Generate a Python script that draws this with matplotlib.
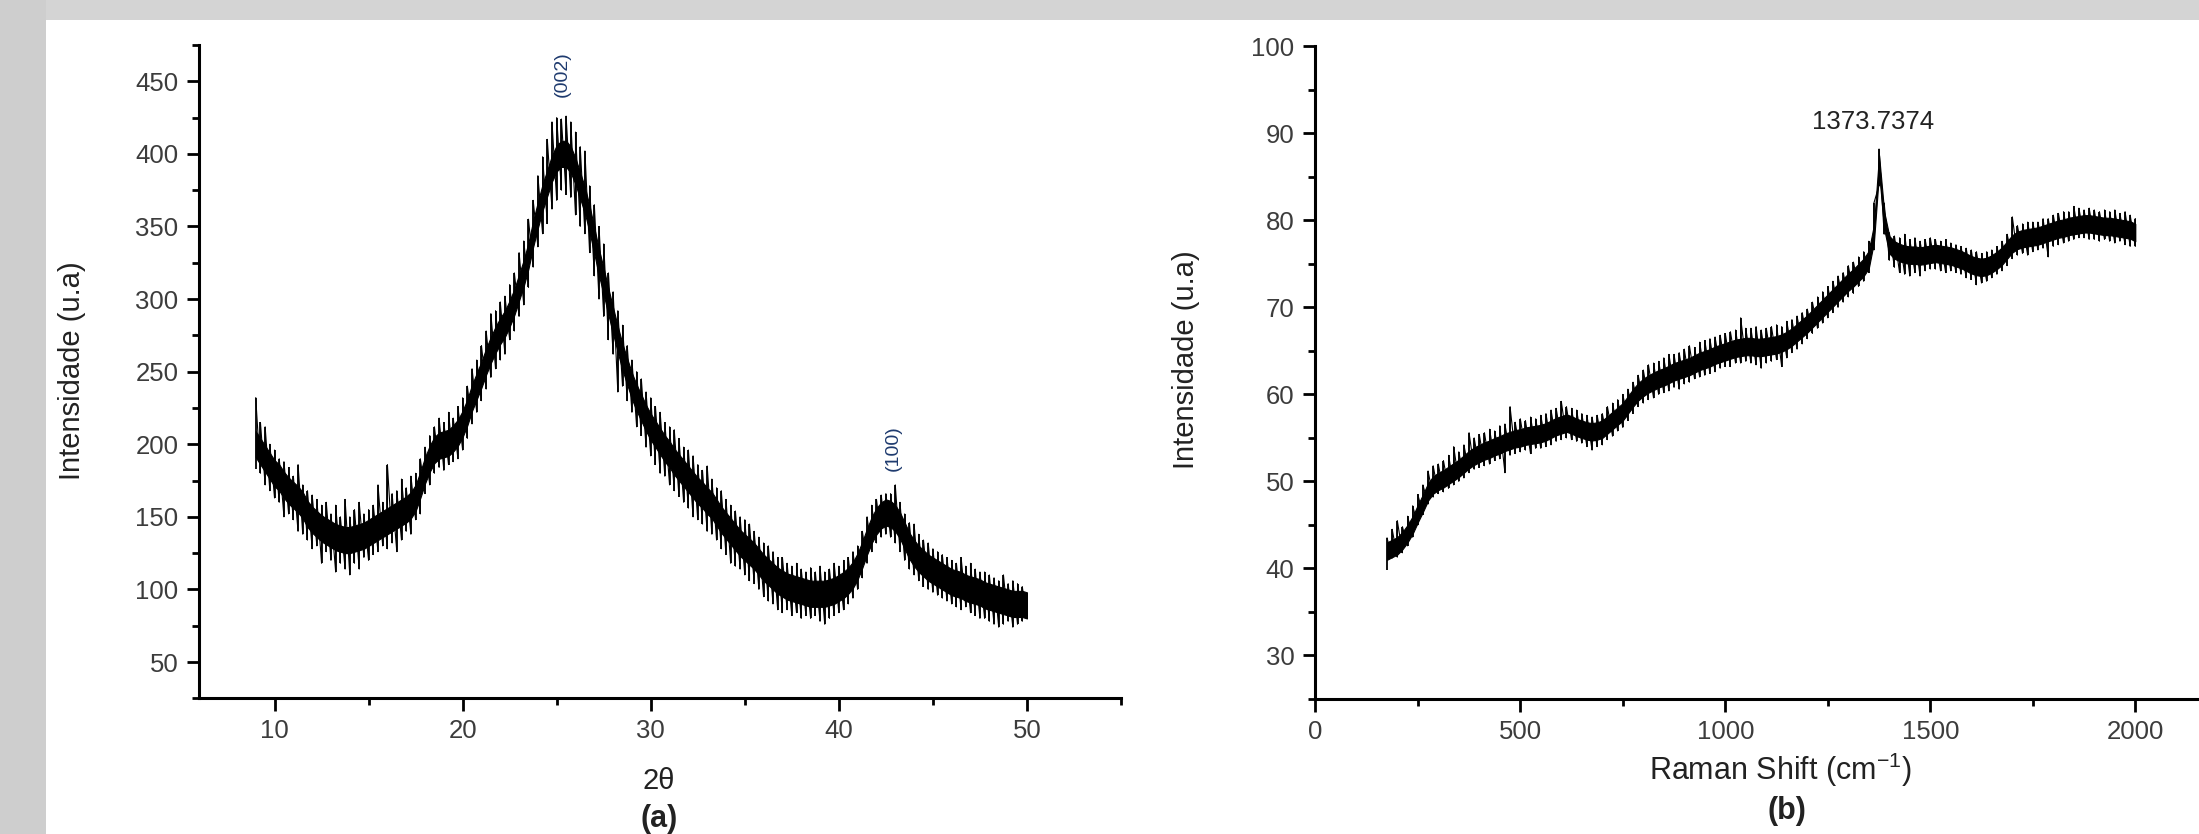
import numpy as np
import matplotlib
matplotlib.use("Agg")
import matplotlib.pyplot as plt
from matplotlib.patches import Rectangle
from matplotlib.ticker import MultipleLocator

plt.rcParams['font.family'] = ['Liberation Sans', 'DejaVu Sans']
plt.rcParams['mathtext.fontset'] = 'custom'
plt.rcParams['mathtext.rm'] = 'Liberation Sans'

###############################################################################
# data
###############################################################################
# (a) XRD, 2theta from 9 to 50 every 0.25 deg
xrd_start, xrd_end = 9.0, 50.0
# middle of the dense noise band
xrd_mid = [200, 195, 190, 185, 180, 177, 172, 168, 165, 162, 158, 152,
           148, 145, 142, 140, 138, 136, 135, 134, 134, 135, 136, 137,
           139, 141, 143, 145, 147, 149, 151, 153, 155, 158, 163, 172,
           182, 190, 196, 199, 200, 201, 204, 208, 214, 222, 232, 240,
           248, 257, 265, 272, 278, 283, 290, 298, 308, 318, 330, 345,
           358, 370, 380, 390, 397, 400, 400, 396, 388, 378, 368, 355,
           340, 325, 312, 298, 285, 272, 260, 250, 240, 232, 225, 218,
           212, 207, 202, 197, 193, 188, 184, 180, 176, 172, 168, 165,
           161, 158, 153, 148, 144, 140, 136, 132, 129, 126, 123, 119,
           115, 112, 109, 106, 104, 102, 101, 100, 99, 98, 97, 97,
           97, 97, 98, 99, 101, 103, 106, 110, 116, 124, 133, 141,
           147, 151, 153, 152, 149, 144, 137, 130, 125, 121, 118, 115,
           113, 111, 109, 107, 105, 104, 103, 101, 100, 99, 98, 96,
           95, 94, 93, 92, 91, 90, 90, 90, 89]
# tips of the spikes above / below
xrd_hi = [232, 215, 212, 200, 196, 190, 188, 184, 178, 186, 172, 168,
          165, 162, 158, 160, 152, 158, 150, 162, 150, 155, 160, 152,
          155, 158, 172, 160, 186, 166, 168, 176, 170, 178, 180, 190,
          198, 206, 212, 218, 215, 222, 218, 226, 232, 240, 252, 258,
          268, 278, 290, 292, 298, 302, 310, 318, 332, 340, 355, 368,
          385, 398, 410, 422, 425, 424, 426, 422, 415, 405, 402, 378,
          365, 350, 338, 318, 305, 292, 282, 268, 258, 250, 245, 236,
          232, 226, 222, 215, 212, 210, 204, 198, 196, 192, 186, 182,
          185, 176, 170, 168, 162, 158, 154, 150, 148, 145, 140, 136,
          132, 130, 126, 122, 122, 118, 116, 118, 114, 112, 115, 112,
          116, 112, 114, 118, 116, 120, 122, 126, 130, 140, 150, 158,
          162, 165, 166, 166, 172, 160, 152, 146, 145, 138, 134, 132,
          128, 126, 124, 122, 120, 118, 122, 116, 118, 114, 112, 112,
          110, 108, 106, 110, 104, 106, 104, 102, 96]
xrd_lo = [183, 180, 172, 168, 163, 160, 150, 152, 148, 140, 138, 134,
          128, 130, 118, 126, 120, 112, 118, 114, 110, 118, 114, 122,
          120, 124, 126, 130, 128, 132, 126, 134, 140, 138, 148, 152,
          166, 172, 180, 184, 182, 186, 188, 190, 196, 204, 214, 222,
          230, 238, 246, 252, 258, 262, 272, 278, 288, 296, 308, 322,
          336, 345, 352, 362, 368, 375, 372, 370, 358, 350, 345, 332,
          316, 300, 288, 272, 262, 236, 240, 230, 222, 212, 206, 198,
          192, 186, 180, 178, 172, 168, 164, 160, 156, 150, 148, 145,
          140, 138, 134, 128, 124, 118, 116, 114, 110, 106, 104, 100,
          95, 92, 90, 86, 84, 86, 82, 84, 80, 82, 80, 82,
          78, 76, 80, 82, 84, 86, 90, 94, 100, 108, 118, 126,
          132, 136, 138, 136, 132, 126, 120, 114, 110, 106, 102, 100,
          98, 96, 94, 92, 90, 88, 86, 88, 84, 82, 80, 80,
          78, 76, 74, 76, 78, 74, 76, 78, 80]
xrd_peaks = ["(002)", "(100)"]
xrd_peak_pos = [(25.3, 455), (42.9, 197)]

# (b) Raman, shift from 175 to 2000 cm-1 every 12.5
ram_start, ram_end = 175.0, 2000.0
ram_mid = [42, 42.3, 42.6, 43.2, 44, 45, 46.3, 47.5, 48.8, 49.6, 50, 50.3,
           50.7, 51.1, 51.5, 52, 52.5, 52.9, 53.2, 53.5, 53.7, 54, 54.2, 54.5,
           54.7, 54.9, 55, 55.2, 55.3, 55.4, 55.5, 55.7, 56, 56.3, 56.5, 56.7,
           56.5, 56.2, 56, 55.8, 55.7, 55.8, 56, 56.5, 57, 57.5, 58, 58.8,
           59.6, 60.3, 60.8, 61.2, 61.5, 61.8, 62, 62.3, 62.6, 62.8, 63, 63.2,
           63.5, 63.8, 64, 64.2, 64.5, 64.7, 64.9, 65.1, 65.3, 65.4, 65.5, 65.5,
           65.4, 65.4, 65.5, 65.6, 65.7, 65.9, 66.2, 66.6, 67.1, 67.6, 68.1, 68.7,
           69.3, 69.9, 70.5, 71.1, 71.7, 72.3, 72.9, 73.4, 74, 74.6, 75.5, 78.5,
           86.5, 80, 77.2, 76.6, 76.3, 76.1, 76, 76, 75.9, 76, 76.1, 76.2,
           76.1, 76, 75.9, 75.7, 75.5, 75.2, 74.9, 74.7, 74.6, 74.7, 75, 75.4,
           75.9, 76.6, 77.3, 77.7, 77.9, 78, 78.1, 78.2, 78.4, 78.6, 78.8, 79,
           79.1, 79.3, 79.4, 79.5, 79.6, 79.6, 79.5, 79.4, 79.3, 79.3, 79.2, 79.1,
           79, 78.9, 78.6]
ram_hi = [43.5, 44.5, 45.5, 44.8, 46.0, 47.2, 48.5, 49.6, 51.2, 51.8, 52.0, 52.4,
          53.0, 54.0, 53.4, 54.2, 55.6, 55.0, 55.4, 55.6, 56.0, 55.8, 56.4, 56.6,
          58.6, 56.8, 57.2, 57.0, 57.4, 57.2, 57.6, 57.8, 58.2, 58.4, 59.2, 58.6,
          58.4, 58.2, 57.8, 57.6, 57.4, 57.6, 57.8, 58.6, 59.0, 59.4, 60.0, 60.6,
          61.4, 62.2, 62.8, 63.4, 63.6, 63.8, 64.2, 64.6, 64.6, 64.8, 65.2, 65.6,
          65.4, 66.0, 66.2, 66.4, 66.6, 66.8, 67.0, 67.2, 67.4, 68.8, 67.6, 67.6,
          67.8, 67.4, 67.6, 67.8, 68.0, 67.8, 68.4, 68.6, 69.0, 69.4, 69.8, 70.6,
          71.2, 71.8, 72.4, 73.0, 73.6, 74.0, 74.8, 75.2, 75.8, 76.4, 77.6, 82.0,
          88.2, 82.0, 78.6, 78.2, 78.0, 78.4, 77.8, 78.0, 77.6, 77.8, 78.0, 77.8,
          77.6, 77.8, 77.4, 77.2, 77.0, 76.8, 76.6, 76.4, 76.2, 76.4, 76.6, 77.0,
          77.6, 78.4, 80.4, 79.4, 79.6, 79.8, 79.8, 79.8, 80.2, 80.2, 80.6, 80.8,
          81.0, 81.0, 81.6, 81.4, 81.2, 81.4, 81.2, 81.0, 81.2, 81.0, 81.2, 80.8,
          81.0, 80.6, 80.2]
ram_lo = [39.8, 41.2, 41.3, 41.8, 42.6, 43.6, 45.0, 46.2, 47.4, 48.2, 48.6, 48.8,
          49.2, 49.6, 50.0, 50.4, 51.0, 51.4, 51.6, 51.8, 52.0, 52.4, 52.6, 51.0,
          53.0, 53.2, 53.4, 53.6, 53.2, 53.8, 53.8, 54.0, 54.2, 54.6, 54.8, 55.0,
          54.8, 54.6, 54.4, 54.0, 53.6, 54.0, 54.2, 54.8, 55.2, 55.8, 56.2, 57.0,
          57.8, 58.6, 59.0, 59.4, 59.6, 60.0, 60.2, 60.4, 60.8, 60.6, 61.2, 61.4,
          61.8, 62.0, 62.2, 62.4, 62.6, 63.0, 63.2, 63.2, 63.6, 63.6, 63.8, 63.6,
          63.4, 63.0, 63.6, 63.8, 64.0, 63.2, 64.2, 64.8, 65.2, 65.8, 66.4, 67.0,
          67.6, 68.2, 68.8, 69.4, 70.0, 70.6, 71.2, 71.6, 72.4, 73.0, 74.0, 76.6,
          84.0, 78.4, 75.4, 74.6, 74.0, 73.8, 73.6, 74.0, 73.6, 74.2, 74.4, 74.4,
          74.2, 74.0, 74.2, 74.0, 73.8, 73.4, 73.2, 72.6, 72.8, 73.0, 73.4, 73.8,
          74.2, 74.8, 75.6, 76.0, 76.2, 76.0, 76.4, 76.6, 76.8, 75.8, 77.0, 77.2,
          77.4, 77.6, 77.8, 78.0, 78.0, 77.8, 77.8, 77.6, 77.8, 77.6, 77.4, 77.6,
          77.2, 77.0, 77.0]
ram_peak_label = "1373.7374"
ram_peak_pos = (1360, 91.3)

###############################################################################
W, H = 2199, 834
def fx(px):
    return px / W
def fy(py):
    return 1 - py / H

# noisy trace: solid band round the middle, zigzag and vertical spikes to hi/lo
def draw_noisy(ax, x0, x1, mid, hi, lo, half):
    grid = np.linspace(x0, x1, len(mid))
    mid = np.array(mid, dtype=float)
    ax.fill_between(grid, mid - half, mid + half, color="black",
                    linewidth=0.8, edgecolor="black")
    ax.vlines(grid, lo, hi, color="black", linewidth=1.3)
    zx = np.repeat(grid, 2)[1:]
    zy = np.column_stack([lo, hi]).ravel()[1:]
    ax.plot(zx, zy, color="black", linewidth=0.8)

def style_axes(ax):
    ax.set_facecolor("none")
    for s in ["top", "right"]:
        ax.spines[s].set_visible(False)
    for s in ["left", "bottom"]:
        ax.spines[s].set_linewidth(2.2)
    ax.tick_params(which="major", direction="out", length=9, width=2,
                   labelsize=18.5, labelcolor="#3c3c3c", pad=6)
    ax.tick_params(which="minor", direction="out", length=5, width=2)

fig = plt.figure(figsize=(W / 100, H / 100), dpi=100)
fig.patch.set_facecolor("white")
# grey frame of the original slide
fig.add_artist(Rectangle((0, fy(20)), 1, 20 / H, transform=fig.transFigure,
                         facecolor="#d4d4d4", edgecolor="none", zorder=0))
fig.add_artist(Rectangle((0, 0), fx(46), 1, transform=fig.transFigure,
                         facecolor="#cecece", edgecolor="none", zorder=0))

# ---- (a) XRD
axA = fig.add_axes([fx(199.3), fy(698.3), fx(1121 - 199.3), (698.3 - 45) / H])
draw_noisy(axA, xrd_start, xrd_end, xrd_mid, xrd_hi, xrd_lo, 9)
axA.set_xlim(6, 55)
axA.set_ylim(25, 475)
axA.xaxis.set_major_locator(MultipleLocator(10))
axA.xaxis.set_minor_locator(MultipleLocator(5))
axA.yaxis.set_minor_locator(MultipleLocator(25))
axA.set_yticks([50, 100, 150, 200, 250, 300, 350, 400, 450])
style_axes(axA)
for lab, (px, py) in zip(xrd_peaks, xrd_peak_pos):
    axA.text(px, py, lab, rotation=90, ha="center", va="center",
             fontsize=14, color="#1e3a6e")
fig.text(fx(72), fy(371), "Intensidade (u.a)", rotation=90, ha="center",
         va="center", fontsize=21, color="#222222")
fig.text(fx(659), fy(781), "2\u03b8", ha="center", va="center", fontsize=21,
         color="#222222")
fig.text(fx(659), fy(819), "(a)", ha="center", va="center", fontsize=22,
         fontweight="bold", color="#222222")

# ---- (b) Raman
axB = fig.add_axes([fx(1315.3), fy(699), 2200 * 0.41 / W, (699 - 46.3) / H])
draw_noisy(axB, ram_start, ram_end, ram_mid, ram_hi, ram_lo, 1.0)
axB.set_xlim(0, 2200)
axB.set_ylim(25, 100)
axB.xaxis.set_major_locator(MultipleLocator(500))
axB.xaxis.set_minor_locator(MultipleLocator(250))
axB.yaxis.set_minor_locator(MultipleLocator(5))
axB.set_yticks([30, 40, 50, 60, 70, 80, 90, 100])
style_axes(axB)
axB.text(ram_peak_pos[0], ram_peak_pos[1], ram_peak_label, ha="center",
         va="center", fontsize=18.5, color="#222222")
fig.text(fx(1186), fy(360), "Intensidade (u.a)", rotation=90, ha="center",
         va="center", fontsize=21, color="#222222")
fig.text(fx(1780), fy(770), "Raman Shift (cm$^{-1}$)", ha="center",
         va="center", fontsize=22, color="#222222")
fig.text(fx(1787), fy(811), "(b)", ha="center", va="center", fontsize=22,
         fontweight="bold", color="#222222")

fig.savefig("out.png", dpi=100)
